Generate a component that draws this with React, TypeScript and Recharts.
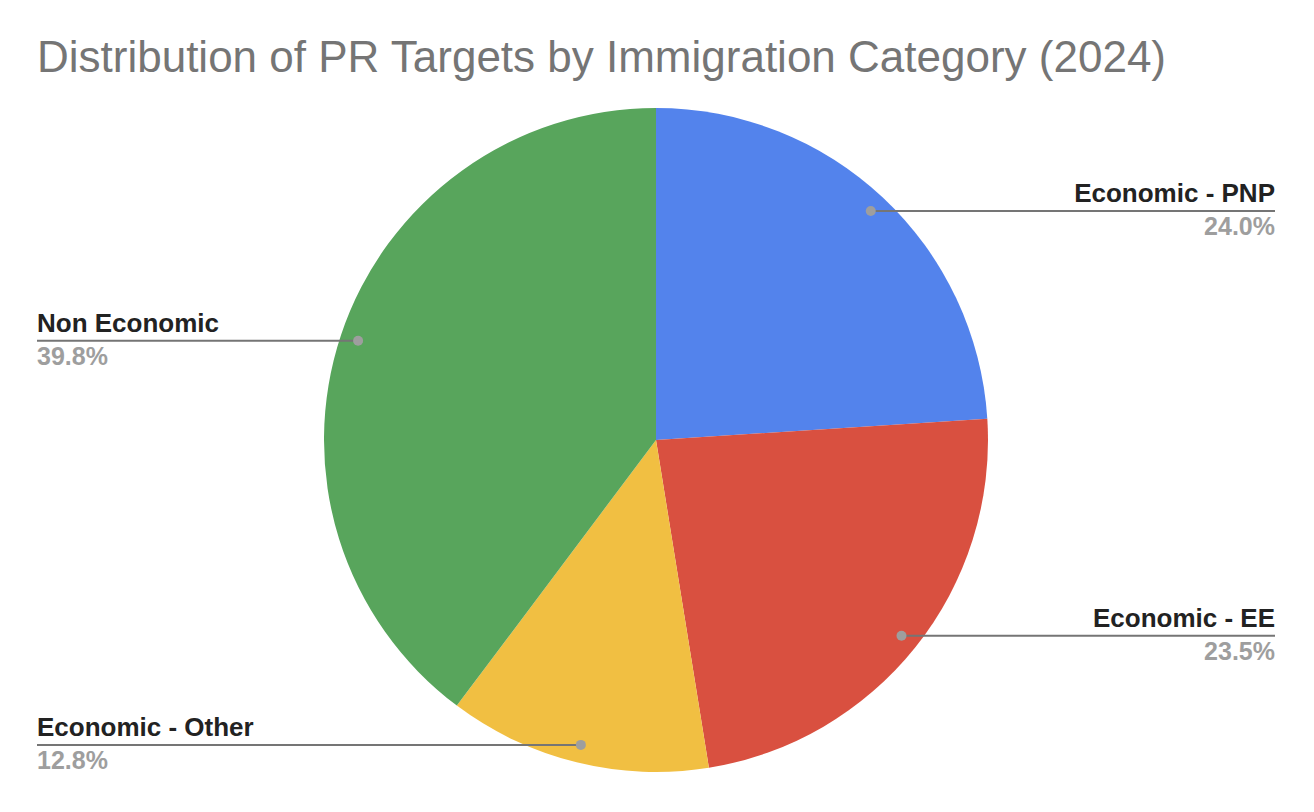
import { PieChart, Pie, Cell } from "recharts";

const categories = [
  "Economic - PNP",
  "Economic - EE",
  "Economic - Other",
  "Non Economic",
];
const shares = [24.0, 23.5, 12.8, 39.8];
const colors = ["#5383ec", "#d95040", "#f1bf42", "#58a55c"];

const data = categories.map((name, i) => ({ name, value: shares[i] }));

const RAD = Math.PI / 180;
const FONT = "'Liberation Sans', Arial, sans-serif";

function SliceLabel(props: any) {
  const { cx, cy, midAngle, outerRadius, name, value } = props;
  const r = outerRadius - 18;
  const x = cx + r * Math.cos(-midAngle * RAD);
  const y = cy + r * Math.sin(-midAngle * RAD);
  const right = x > cx;
  const endX = right ? 1275 : 37;
  const anchor = right ? "end" : "start";

  return (
    <g>
      <line x1={x} y1={y} x2={endX} y2={y} stroke="#757575" strokeWidth={2} />
      <circle cx={x} cy={y} r={5} fill="#9e9e9e" />
      <text
        x={endX}
        y={y - 9}
        textAnchor={anchor}
        fontFamily={FONT}
        fontWeight="bold"
        fontSize={26}
        fill="#222"
      >
        {name}
      </text>
      <text
        x={endX}
        y={y + 24}
        textAnchor={anchor}
        fontFamily={FONT}
        fontWeight="bold"
        fontSize={25}
        fill="#9e9e9e"
      >
        {value.toFixed(1)}%
      </text>
    </g>
  );
}

export default function App() {
  return (
    <div
      style={{
        position: "absolute",
        top: 0,
        left: 0,
        width: 1314,
        height: 812,
        background: "#fff",
      }}
    >
      <svg
        width={1314}
        height={100}
        style={{ position: "absolute", top: 0, left: 0 }}
      >
        <text x={37} y={72} fontFamily={FONT} fontSize={44} fill="#757575">
          Distribution of PR Targets by Immigration Category (2024)
        </text>
      </svg>
      <PieChart
        width={1314}
        height={812}
        margin={{ top: 0, right: 0, bottom: 0, left: 0 }}
        style={{ position: "absolute", top: 0, left: 0 }}
      >
        <Pie
          data={data}
          dataKey="value"
          nameKey="name"
          cx={656}
          cy={440}
          outerRadius={332}
          startAngle={90}
          endAngle={-270}
          stroke="none"
          label={SliceLabel}
          labelLine={false}
          isAnimationActive={false}
        >
          {data.map((d, i) => (
            <Cell key={d.name} fill={colors[i]} />
          ))}
        </Pie>
      </PieChart>
    </div>
  );
}
